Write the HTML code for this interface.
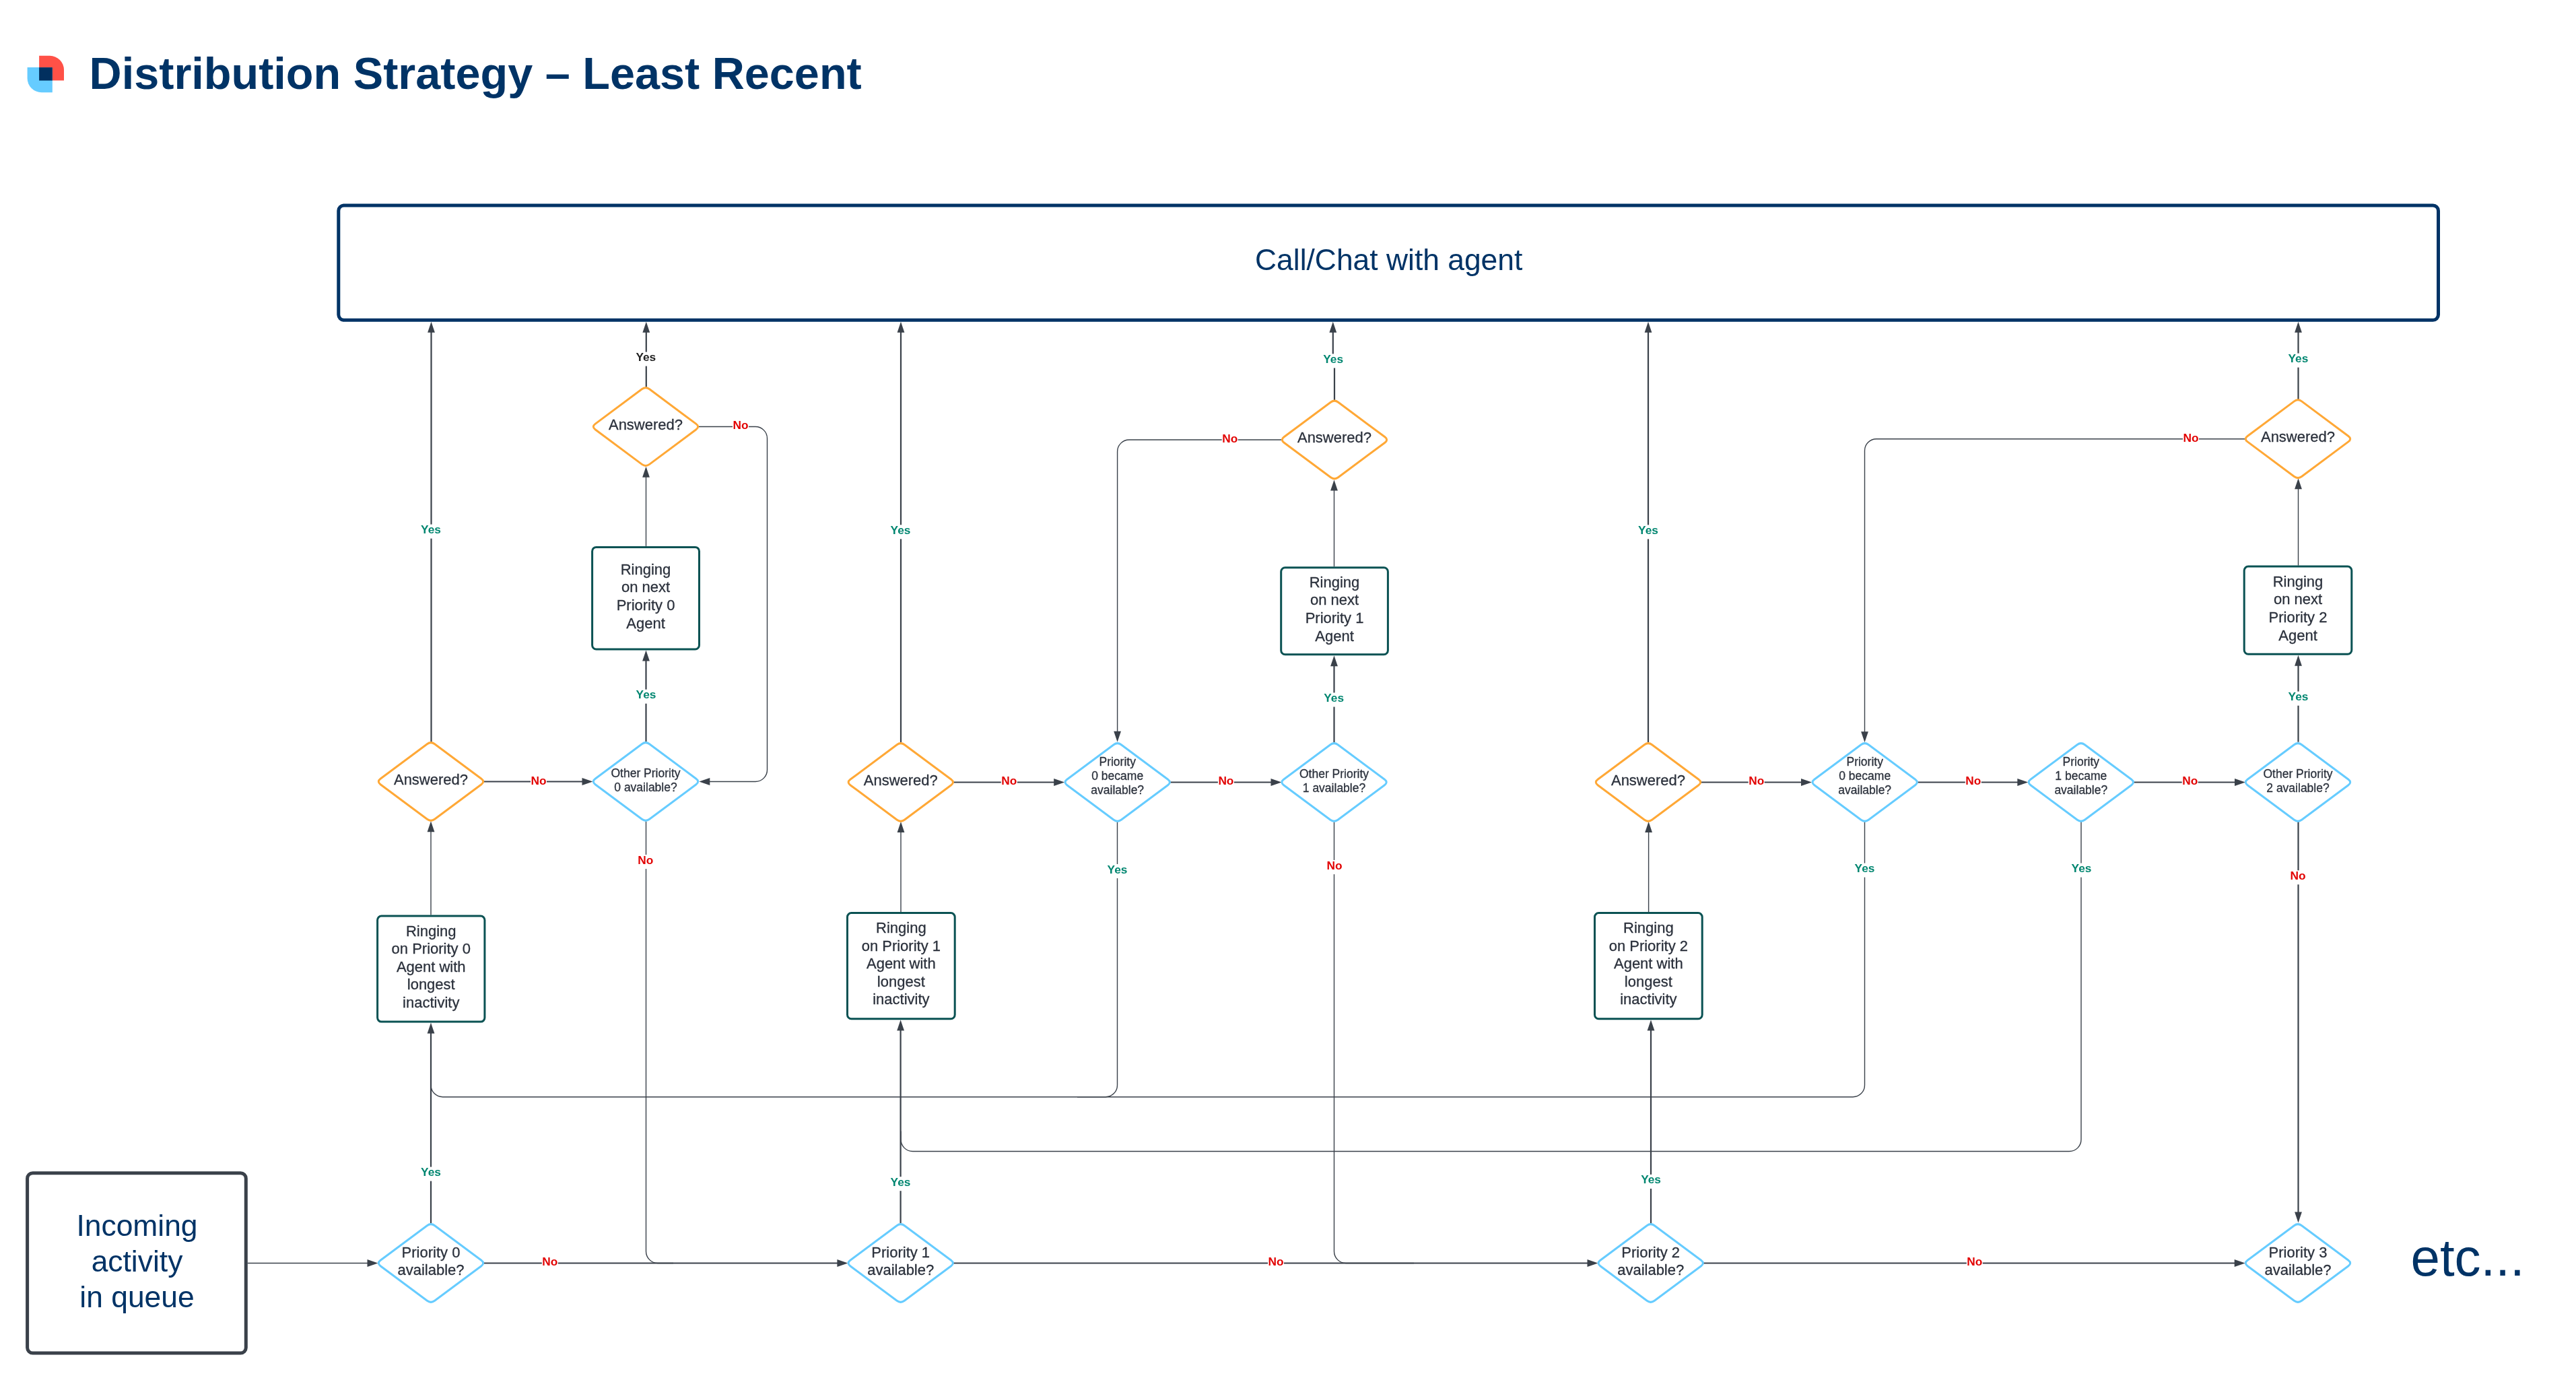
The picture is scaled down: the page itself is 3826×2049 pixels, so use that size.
<!DOCTYPE html>
<html><head><meta charset="utf-8"><title>Distribution Strategy – Least Recent</title>
<style>html,body{margin:0;padding:0;background:#fff;width:3826px;height:2049px;overflow:hidden}
svg{display:block;font-family:"Liberation Sans",sans-serif;will-change:transform}</style></head>
<body>
<svg width="3826" height="2049" viewBox="0 0 3826 2049" font-family="Liberation Sans, sans-serif">
<rect width="3826" height="2049" fill="#fff"/>
<path d="M367.8,1875.5 H546.5" fill="none" stroke="#3a414a" stroke-width="1.5"/>
<path d="M561.50,1875.50 L545.50,1870.10 L545.50,1880.90 Z" fill="#3a414a"/>
<path d="M640,1816.4 V1533.6" fill="none" stroke="#3a414a" stroke-width="2.2"/>
<path d="M640.00,1518.60 L634.60,1534.60 L645.40,1534.60 Z" fill="#3a414a"/>
<path d="M640,1358.6 V1234.2" fill="none" stroke="#3a414a" stroke-width="1.4"/>
<path d="M640.00,1219.20 L634.60,1235.20 L645.40,1235.20 Z" fill="#3a414a"/>
<path d="M640.5,1101.7 V492.8" fill="none" stroke="#3a414a" stroke-width="2.2"/>
<path d="M640.50,477.80 L635.10,493.80 L645.90,493.80 Z" fill="#3a414a"/>
<path d="M718.9,1160.5 H865.5" fill="none" stroke="#3a414a" stroke-width="2.2"/>
<path d="M880.50,1160.50 L864.50,1155.10 L864.50,1165.90 Z" fill="#3a414a"/>
<path d="M959.5,1101.2 V980.5" fill="none" stroke="#3a414a" stroke-width="2.2"/>
<path d="M959.50,965.50 L954.10,981.50 L964.90,981.50 Z" fill="#3a414a"/>
<path d="M959.5,810.9 V707.7" fill="none" stroke="#3a414a" stroke-width="1.4"/>
<path d="M959.50,692.70 L954.10,708.70 L964.90,708.70 Z" fill="#3a414a"/>
<path d="M959.8,574.7 V492.8" fill="none" stroke="#3a414a" stroke-width="2.2"/>
<path d="M959.80,477.80 L954.40,493.80 L965.20,493.80 Z" fill="#3a414a"/>
<path d="M1037.6,633.5 L1122.00,633.50 A17.5,17.5 0 0 1 1139.50,651.00 L1139.50,1143.00 A17.5,17.5 0 0 1 1122.00,1160.50 L1053.3,1160.5" fill="none" stroke="#3a414a" stroke-width="1.4"/>
<path d="M1038.30,1160.50 L1054.30,1155.10 L1054.30,1165.90 Z" fill="#3a414a"/>
<path d="M959.5,1219.7 L959.50,1858.00 A17.5,17.5 0 0 0 977.00,1875.50 L1000,1875.5" fill="none" stroke="#3a414a" stroke-width="1.4"/>
<path d="M718.5,1875.5 H1244.4" fill="none" stroke="#3a414a" stroke-width="2.2"/>
<path d="M1259.40,1875.50 L1243.40,1870.10 L1243.40,1880.90 Z" fill="#3a414a"/>
<path d="M1337.6,1816.3 V1529.3" fill="none" stroke="#3a414a" stroke-width="2.2"/>
<path d="M1337.60,1514.30 L1332.20,1530.30 L1343.00,1530.30 Z" fill="#3a414a"/>
<path d="M1338,1354.1 V1235" fill="none" stroke="#3a414a" stroke-width="1.4"/>
<path d="M1338.00,1220.00 L1332.60,1236.00 L1343.40,1236.00 Z" fill="#3a414a"/>
<path d="M1338,1102 V492.8" fill="none" stroke="#3a414a" stroke-width="2.2"/>
<path d="M1338.00,477.80 L1332.60,493.80 L1343.40,493.80 Z" fill="#3a414a"/>
<path d="M1416.3,1161.5 H1566.2" fill="none" stroke="#3a414a" stroke-width="2.2"/>
<path d="M1581.20,1161.50 L1565.20,1156.10 L1565.20,1166.90 Z" fill="#3a414a"/>
<path d="M1659.5,1220.5 L1659.50,1611.20 A17.5,17.5 0 0 1 1642.00,1628.70 L657.50,1628.70 A17.5,17.5 0 0 1 640.00,1611.20 L640,1598.7" fill="none" stroke="#3a414a" stroke-width="1.4"/>
<path d="M1738.3,1161.5 H1888.5" fill="none" stroke="#3a414a" stroke-width="2.2"/>
<path d="M1903.50,1161.50 L1887.50,1156.10 L1887.50,1166.90 Z" fill="#3a414a"/>
<path d="M1981.5,1102 V988.3" fill="none" stroke="#3a414a" stroke-width="2.2"/>
<path d="M1981.50,973.30 L1976.10,989.30 L1986.90,989.30 Z" fill="#3a414a"/>
<path d="M1981.5,841.2 V727.5" fill="none" stroke="#3a414a" stroke-width="1.4"/>
<path d="M1981.50,712.50 L1976.10,728.50 L1986.90,728.50 Z" fill="#3a414a"/>
<path d="M1982,594.3 V542 L1979.8,539 V492.8" fill="none" stroke="#3a414a" stroke-width="2.2"/>
<path d="M1979.80,477.80 L1974.40,493.80 L1985.20,493.80 Z" fill="#3a414a"/>
<path d="M1903.4,653 L1677.10,653.00 A17.5,17.5 0 0 0 1659.60,670.50 L1659.6,1086.7" fill="none" stroke="#3a414a" stroke-width="1.4"/>
<path d="M1659.60,1101.70 L1654.20,1085.70 L1665.00,1085.70 Z" fill="#3a414a"/>
<path d="M1981.5,1220.5 L1981.50,1858.00 A17.5,17.5 0 0 0 1999.00,1875.50 L2100,1875.5" fill="none" stroke="#3a414a" stroke-width="1.4"/>
<path d="M1416,1875.5 H2358.5" fill="none" stroke="#3a414a" stroke-width="2.2"/>
<path d="M2373.50,1875.50 L2357.50,1870.10 L2357.50,1880.90 Z" fill="#3a414a"/>
<path d="M2452,1817 V1529.3" fill="none" stroke="#3a414a" stroke-width="2.2"/>
<path d="M2452.00,1514.30 L2446.60,1530.30 L2457.40,1530.30 Z" fill="#3a414a"/>
<path d="M2448.6,1354.1 V1235" fill="none" stroke="#3a414a" stroke-width="1.4"/>
<path d="M2448.60,1220.00 L2443.20,1236.00 L2454.00,1236.00 Z" fill="#3a414a"/>
<path d="M2448,1102 V492.8" fill="none" stroke="#3a414a" stroke-width="2.2"/>
<path d="M2448.00,477.80 L2442.60,493.80 L2453.40,493.80 Z" fill="#3a414a"/>
<path d="M2526.4,1161.5 H2676" fill="none" stroke="#3a414a" stroke-width="2.2"/>
<path d="M2691.00,1161.50 L2675.00,1156.10 L2675.00,1166.90 Z" fill="#3a414a"/>
<path d="M2769.5,1220 L2769.50,1611.20 A17.5,17.5 0 0 1 2752.00,1628.70 L1600,1628.7" fill="none" stroke="#3a414a" stroke-width="1.4"/>
<path d="M2848.3,1161.5 H2997.3" fill="none" stroke="#3a414a" stroke-width="2.2"/>
<path d="M3012.30,1161.50 L2996.30,1156.10 L2996.30,1166.90 Z" fill="#3a414a"/>
<path d="M3091,1220 L3091.00,1692.00 A17.5,17.5 0 0 1 3073.50,1709.50 L1355.50,1709.50 A17.5,17.5 0 0 1 1338.00,1692.00 L1338,1679.5" fill="none" stroke="#3a414a" stroke-width="1.4"/>
<path d="M3169.2,1161.5 H3320" fill="none" stroke="#3a414a" stroke-width="2.2"/>
<path d="M3335.00,1161.50 L3319.00,1156.10 L3319.00,1166.90 Z" fill="#3a414a"/>
<path d="M3413.5,1101.7 V987.8" fill="none" stroke="#3a414a" stroke-width="2.2"/>
<path d="M3413.50,972.80 L3408.10,988.80 L3418.90,988.80 Z" fill="#3a414a"/>
<path d="M3413.5,839.6 V725.2" fill="none" stroke="#3a414a" stroke-width="1.4"/>
<path d="M3413.50,710.20 L3408.10,726.20 L3418.90,726.20 Z" fill="#3a414a"/>
<path d="M3413.5,593 V492.8" fill="none" stroke="#3a414a" stroke-width="2.2"/>
<path d="M3413.50,477.80 L3408.10,493.80 L3418.90,493.80 Z" fill="#3a414a"/>
<path d="M3334.6,651.7 L2787.00,651.70 A17.5,17.5 0 0 0 2769.50,669.20 L2769.5,1087.3" fill="none" stroke="#3a414a" stroke-width="1.4"/>
<path d="M2769.50,1102.30 L2764.10,1086.30 L2774.90,1086.30 Z" fill="#3a414a"/>
<path d="M3413.5,1219.4 V1800.5" fill="none" stroke="#3a414a" stroke-width="2.2"/>
<path d="M3413.50,1815.50 L3408.10,1799.50 L3418.90,1799.50 Z" fill="#3a414a"/>
<path d="M2529.8,1875.5 H3319.7" fill="none" stroke="#3a414a" stroke-width="2.2"/>
<path d="M3334.70,1875.50 L3318.70,1870.10 L3318.70,1880.90 Z" fill="#3a414a"/>
<rect x="624.50" y="1732.60" width="31" height="21" fill="#fff"/>
<text x="640" y="1746.1" font-size="17.3" font-weight="bold" fill="#008670" text-anchor="middle">Yes</text>
<rect x="624.50" y="778.60" width="31" height="21" fill="#fff"/>
<text x="640" y="792.1" font-size="17.3" font-weight="bold" fill="#008670" text-anchor="middle">Yes</text>
<rect x="788.00" y="1151.10" width="24" height="21" fill="#fff"/>
<text x="800" y="1164.6" font-size="17.3" font-weight="bold" fill="#e20000" text-anchor="middle">No</text>
<rect x="944.00" y="1023.70" width="31" height="21" fill="#fff"/>
<text x="959.5" y="1037.2" font-size="17.3" font-weight="bold" fill="#008670" text-anchor="middle">Yes</text>
<rect x="943.80" y="522.60" width="31" height="21" fill="#fff"/>
<text x="959.3" y="536.1" font-size="17.3" font-weight="bold" fill="#222" text-anchor="middle">Yes</text>
<rect x="1088.00" y="623.80" width="24" height="21" fill="#fff"/>
<text x="1100" y="637.3" font-size="17.3" font-weight="bold" fill="#e20000" text-anchor="middle">No</text>
<rect x="946.80" y="1269.10" width="24" height="21" fill="#fff"/>
<text x="958.8" y="1282.6" font-size="17.3" font-weight="bold" fill="#e20000" text-anchor="middle">No</text>
<rect x="804.80" y="1865.50" width="24" height="21" fill="#fff"/>
<text x="816.8" y="1879" font-size="17.3" font-weight="bold" fill="#e20000" text-anchor="middle">No</text>
<rect x="1322.00" y="1747.20" width="31" height="21" fill="#fff"/>
<text x="1337.5" y="1760.7" font-size="17.3" font-weight="bold" fill="#008670" text-anchor="middle">Yes</text>
<rect x="1322.00" y="779.30" width="31" height="21" fill="#fff"/>
<text x="1337.5" y="792.8" font-size="17.3" font-weight="bold" fill="#008670" text-anchor="middle">Yes</text>
<rect x="1486.80" y="1151.90" width="24" height="21" fill="#fff"/>
<text x="1498.8" y="1165.4" font-size="17.3" font-weight="bold" fill="#e20000" text-anchor="middle">No</text>
<rect x="1644.00" y="1283.00" width="31" height="21" fill="#fff"/>
<text x="1659.5" y="1296.5" font-size="17.3" font-weight="bold" fill="#008670" text-anchor="middle">Yes</text>
<rect x="1808.90" y="1151.70" width="24" height="21" fill="#fff"/>
<text x="1820.9" y="1165.2" font-size="17.3" font-weight="bold" fill="#e20000" text-anchor="middle">No</text>
<rect x="1965.70" y="1028.50" width="31" height="21" fill="#fff"/>
<text x="1981.2" y="1042" font-size="17.3" font-weight="bold" fill="#008670" text-anchor="middle">Yes</text>
<rect x="1964.70" y="525.40" width="31" height="21" fill="#fff"/>
<text x="1980.2" y="538.9" font-size="17.3" font-weight="bold" fill="#008670" text-anchor="middle">Yes</text>
<rect x="1814.70" y="643.30" width="24" height="21" fill="#fff"/>
<text x="1826.7" y="656.8" font-size="17.3" font-weight="bold" fill="#e20000" text-anchor="middle">No</text>
<rect x="1970.00" y="1277.10" width="24" height="21" fill="#fff"/>
<text x="1982" y="1290.6" font-size="17.3" font-weight="bold" fill="#e20000" text-anchor="middle">No</text>
<rect x="1883.00" y="1865.40" width="24" height="21" fill="#fff"/>
<text x="1895" y="1878.9" font-size="17.3" font-weight="bold" fill="#e20000" text-anchor="middle">No</text>
<rect x="2436.60" y="1743.90" width="31" height="21" fill="#fff"/>
<text x="2452.1" y="1757.4" font-size="17.3" font-weight="bold" fill="#008670" text-anchor="middle">Yes</text>
<rect x="2432.50" y="779.40" width="31" height="21" fill="#fff"/>
<text x="2448" y="792.9" font-size="17.3" font-weight="bold" fill="#008670" text-anchor="middle">Yes</text>
<rect x="2596.70" y="1151.90" width="24" height="21" fill="#fff"/>
<text x="2608.7" y="1165.4" font-size="17.3" font-weight="bold" fill="#e20000" text-anchor="middle">No</text>
<rect x="2754.00" y="1281.60" width="31" height="21" fill="#fff"/>
<text x="2769.5" y="1295.1" font-size="17.3" font-weight="bold" fill="#008670" text-anchor="middle">Yes</text>
<rect x="2918.80" y="1151.90" width="24" height="21" fill="#fff"/>
<text x="2930.8" y="1165.4" font-size="17.3" font-weight="bold" fill="#e20000" text-anchor="middle">No</text>
<rect x="3076.00" y="1281.60" width="31" height="21" fill="#fff"/>
<text x="3091.5" y="1295.1" font-size="17.3" font-weight="bold" fill="#008670" text-anchor="middle">Yes</text>
<rect x="3240.70" y="1151.70" width="24" height="21" fill="#fff"/>
<text x="3252.7" y="1165.2" font-size="17.3" font-weight="bold" fill="#e20000" text-anchor="middle">No</text>
<rect x="3398.00" y="1026.70" width="31" height="21" fill="#fff"/>
<text x="3413.5" y="1040.2" font-size="17.3" font-weight="bold" fill="#008670" text-anchor="middle">Yes</text>
<rect x="3397.90" y="524.60" width="31" height="21" fill="#fff"/>
<text x="3413.4" y="538.1" font-size="17.3" font-weight="bold" fill="#008670" text-anchor="middle">Yes</text>
<rect x="3242.00" y="642.30" width="24" height="21" fill="#fff"/>
<text x="3254" y="655.8" font-size="17.3" font-weight="bold" fill="#e20000" text-anchor="middle">No</text>
<rect x="3401.00" y="1292.30" width="24" height="21" fill="#fff"/>
<text x="3413" y="1305.8" font-size="17.3" font-weight="bold" fill="#e20000" text-anchor="middle">No</text>
<rect x="2920.80" y="1865.40" width="24" height="21" fill="#fff"/>
<text x="2932.8" y="1878.9" font-size="17.3" font-weight="bold" fill="#e20000" text-anchor="middle">No</text>
<rect x="502.8" y="304.9" width="3118.7" height="170.4" rx="8" fill="none" stroke="#003366" stroke-width="5"/>
<text x="2062.7" y="400.9" font-size="44.4" fill="#003366" text-anchor="middle">Call/Chat with agent</text>
<rect x="40.6" y="1741.7" width="324.7" height="267.3" rx="8" fill="#fff" stroke="#3a414a" stroke-width="5"/>
<text x="203.5" y="1835.00" font-size="44.4" fill="#003366" text-anchor="middle">Incoming</text>
<text x="203.5" y="1888.00" font-size="44.4" fill="#003366" text-anchor="middle">activity</text>
<text x="203.5" y="1941.00" font-size="44.4" fill="#003366" text-anchor="middle">in queue</text>
<rect x="560.6" y="1360.1" width="159.3" height="157" rx="6" fill="#fff" stroke="#0a5253" stroke-width="3"/>
<text x="640.25" y="1389.60" font-size="22" fill="#2b313c" stroke="#2b313c" stroke-width="0.3" text-anchor="middle">Ringing</text>
<text x="640.25" y="1416.15" font-size="22" fill="#2b313c" stroke="#2b313c" stroke-width="0.3" text-anchor="middle">on Priority 0</text>
<text x="640.25" y="1442.70" font-size="22" fill="#2b313c" stroke="#2b313c" stroke-width="0.3" text-anchor="middle">Agent with</text>
<text x="640.25" y="1469.25" font-size="22" fill="#2b313c" stroke="#2b313c" stroke-width="0.3" text-anchor="middle">longest</text>
<text x="640.25" y="1495.80" font-size="22" fill="#2b313c" stroke="#2b313c" stroke-width="0.3" text-anchor="middle">inactivity</text>
<rect x="1258.5" y="1355.6" width="159.7" height="157.2" rx="6" fill="#fff" stroke="#0a5253" stroke-width="3"/>
<text x="1338.35" y="1385.20" font-size="22" fill="#2b313c" stroke="#2b313c" stroke-width="0.3" text-anchor="middle">Ringing</text>
<text x="1338.35" y="1411.75" font-size="22" fill="#2b313c" stroke="#2b313c" stroke-width="0.3" text-anchor="middle">on Priority 1</text>
<text x="1338.35" y="1438.30" font-size="22" fill="#2b313c" stroke="#2b313c" stroke-width="0.3" text-anchor="middle">Agent with</text>
<text x="1338.35" y="1464.85" font-size="22" fill="#2b313c" stroke="#2b313c" stroke-width="0.3" text-anchor="middle">longest</text>
<text x="1338.35" y="1491.40" font-size="22" fill="#2b313c" stroke="#2b313c" stroke-width="0.3" text-anchor="middle">inactivity</text>
<rect x="2368.5" y="1355.6" width="159.7" height="157.2" rx="6" fill="#fff" stroke="#0a5253" stroke-width="3"/>
<text x="2448.35" y="1385.20" font-size="22" fill="#2b313c" stroke="#2b313c" stroke-width="0.3" text-anchor="middle">Ringing</text>
<text x="2448.35" y="1411.75" font-size="22" fill="#2b313c" stroke="#2b313c" stroke-width="0.3" text-anchor="middle">on Priority 2</text>
<text x="2448.35" y="1438.30" font-size="22" fill="#2b313c" stroke="#2b313c" stroke-width="0.3" text-anchor="middle">Agent with</text>
<text x="2448.35" y="1464.85" font-size="22" fill="#2b313c" stroke="#2b313c" stroke-width="0.3" text-anchor="middle">longest</text>
<text x="2448.35" y="1491.40" font-size="22" fill="#2b313c" stroke="#2b313c" stroke-width="0.3" text-anchor="middle">inactivity</text>
<rect x="879.6" y="812.4" width="158.9" height="151.6" rx="6" fill="#fff" stroke="#0a5253" stroke-width="3"/>
<text x="959.05" y="852.60" font-size="22" fill="#2b313c" stroke="#2b313c" stroke-width="0.3" text-anchor="middle">Ringing</text>
<text x="959.05" y="879.30" font-size="22" fill="#2b313c" stroke="#2b313c" stroke-width="0.3" text-anchor="middle">on next</text>
<text x="959.05" y="906.00" font-size="22" fill="#2b313c" stroke="#2b313c" stroke-width="0.3" text-anchor="middle">Priority 0</text>
<text x="959.05" y="932.70" font-size="22" fill="#2b313c" stroke="#2b313c" stroke-width="0.3" text-anchor="middle">Agent</text>
<rect x="1902.7" y="842.7" width="158.7" height="129.1" rx="6" fill="#fff" stroke="#0a5253" stroke-width="3"/>
<text x="1982.05" y="871.65" font-size="22" fill="#2b313c" stroke="#2b313c" stroke-width="0.3" text-anchor="middle">Ringing</text>
<text x="1982.05" y="898.35" font-size="22" fill="#2b313c" stroke="#2b313c" stroke-width="0.3" text-anchor="middle">on next</text>
<text x="1982.05" y="925.05" font-size="22" fill="#2b313c" stroke="#2b313c" stroke-width="0.3" text-anchor="middle">Priority 1</text>
<text x="1982.05" y="951.75" font-size="22" fill="#2b313c" stroke="#2b313c" stroke-width="0.3" text-anchor="middle">Agent</text>
<rect x="3333.2" y="841.1" width="159.6" height="130.2" rx="6" fill="#fff" stroke="#0a5253" stroke-width="3"/>
<text x="3413.00" y="870.60" font-size="22" fill="#2b313c" stroke="#2b313c" stroke-width="0.3" text-anchor="middle">Ringing</text>
<text x="3413.00" y="897.30" font-size="22" fill="#2b313c" stroke="#2b313c" stroke-width="0.3" text-anchor="middle">on next</text>
<text x="3413.00" y="924.00" font-size="22" fill="#2b313c" stroke="#2b313c" stroke-width="0.3" text-anchor="middle">Priority 2</text>
<text x="3413.00" y="950.70" font-size="22" fill="#2b313c" stroke="#2b313c" stroke-width="0.3" text-anchor="middle">Agent</text>
<path d="M565.11,1164.68 Q559.50,1160.50 565.11,1156.32 L634.39,1104.68 Q640.00,1100.50 645.61,1104.68 L714.89,1156.32 Q720.50,1160.50 714.89,1164.68 L645.61,1216.32 Q640.00,1220.50 634.39,1216.32 Z" fill="#fff" stroke="#ffa836" stroke-width="3" stroke-linejoin="round"/>
<text x="640" y="1164.60" font-size="22" fill="#2b313c" stroke="#2b313c" stroke-width="0.3" text-anchor="middle">Answered?</text>
<path d="M1262.91,1165.68 Q1257.30,1161.50 1262.91,1157.32 L1332.19,1105.68 Q1337.80,1101.50 1343.41,1105.68 L1412.69,1157.32 Q1418.30,1161.50 1412.69,1165.68 L1343.41,1217.32 Q1337.80,1221.50 1332.19,1217.32 Z" fill="#fff" stroke="#ffa836" stroke-width="3" stroke-linejoin="round"/>
<text x="1337.8" y="1165.60" font-size="22" fill="#2b313c" stroke="#2b313c" stroke-width="0.3" text-anchor="middle">Answered?</text>
<path d="M2373.11,1165.68 Q2367.50,1161.50 2373.11,1157.32 L2442.39,1105.68 Q2448.00,1101.50 2453.61,1105.68 L2522.89,1157.32 Q2528.50,1161.50 2522.89,1165.68 L2453.61,1217.32 Q2448.00,1221.50 2442.39,1217.32 Z" fill="#fff" stroke="#ffa836" stroke-width="3" stroke-linejoin="round"/>
<text x="2448" y="1165.60" font-size="22" fill="#2b313c" stroke="#2b313c" stroke-width="0.3" text-anchor="middle">Answered?</text>
<path d="M884.11,637.78 Q878.50,633.60 884.11,629.42 L953.39,577.78 Q959.00,573.60 964.61,577.78 L1033.89,629.42 Q1039.50,633.60 1033.89,637.78 L964.61,689.42 Q959.00,693.60 953.39,689.42 Z" fill="#fff" stroke="#ffa836" stroke-width="3" stroke-linejoin="round"/>
<text x="959" y="637.60" font-size="22" fill="#2b313c" stroke="#2b313c" stroke-width="0.3" text-anchor="middle">Answered?</text>
<path d="M1907.11,657.18 Q1901.50,653.00 1907.11,648.82 L1976.39,597.18 Q1982.00,593.00 1987.61,597.18 L2056.89,648.82 Q2062.50,653.00 2056.89,657.18 L1987.61,708.82 Q1982.00,713.00 1976.39,708.82 Z" fill="#fff" stroke="#ffa836" stroke-width="3" stroke-linejoin="round"/>
<text x="1982" y="657.00" font-size="22" fill="#2b313c" stroke="#2b313c" stroke-width="0.3" text-anchor="middle">Answered?</text>
<path d="M3338.11,655.88 Q3332.50,651.70 3338.11,647.52 L3407.39,595.88 Q3413.00,591.70 3418.61,595.88 L3487.89,647.52 Q3493.50,651.70 3487.89,655.88 L3418.61,707.52 Q3413.00,711.70 3407.39,707.52 Z" fill="#fff" stroke="#ffa836" stroke-width="3" stroke-linejoin="round"/>
<text x="3413" y="655.70" font-size="22" fill="#2b313c" stroke="#2b313c" stroke-width="0.3" text-anchor="middle">Answered?</text>
<path d="M884.11,1164.68 Q878.50,1160.50 884.11,1156.32 L953.39,1104.68 Q959.00,1100.50 964.61,1104.68 L1033.89,1156.32 Q1039.50,1160.50 1033.89,1164.68 L964.61,1216.32 Q959.00,1220.50 953.39,1216.32 Z" fill="#fff" stroke="#66ccff" stroke-width="3" stroke-linejoin="round"/>
<text x="959" y="1154.00" font-size="17.5" fill="#2b313c" stroke="#2b313c" stroke-width="0.3" text-anchor="middle">Other Priority</text>
<text x="959" y="1174.90" font-size="17.5" fill="#2b313c" stroke="#2b313c" stroke-width="0.3" text-anchor="middle">0 available?</text>
<path d="M1906.61,1165.68 Q1901.00,1161.50 1906.61,1157.32 L1975.89,1105.68 Q1981.50,1101.50 1987.11,1105.68 L2056.39,1157.32 Q2062.00,1161.50 2056.39,1165.68 L1987.11,1217.32 Q1981.50,1221.50 1975.89,1217.32 Z" fill="#fff" stroke="#66ccff" stroke-width="3" stroke-linejoin="round"/>
<text x="1981.5" y="1155.00" font-size="17.5" fill="#2b313c" stroke="#2b313c" stroke-width="0.3" text-anchor="middle">Other Priority</text>
<text x="1981.5" y="1175.90" font-size="17.5" fill="#2b313c" stroke="#2b313c" stroke-width="0.3" text-anchor="middle">1 available?</text>
<path d="M3338.11,1165.68 Q3332.50,1161.50 3338.11,1157.32 L3407.39,1105.68 Q3413.00,1101.50 3418.61,1105.68 L3487.89,1157.32 Q3493.50,1161.50 3487.89,1165.68 L3418.61,1217.32 Q3413.00,1221.50 3407.39,1217.32 Z" fill="#fff" stroke="#66ccff" stroke-width="3" stroke-linejoin="round"/>
<text x="3413" y="1155.00" font-size="17.5" fill="#2b313c" stroke="#2b313c" stroke-width="0.3" text-anchor="middle">Other Priority</text>
<text x="3413" y="1175.90" font-size="17.5" fill="#2b313c" stroke="#2b313c" stroke-width="0.3" text-anchor="middle">2 available?</text>
<path d="M1584.81,1165.68 Q1579.20,1161.50 1584.81,1157.32 L1654.09,1105.68 Q1659.70,1101.50 1665.31,1105.68 L1734.59,1157.32 Q1740.20,1161.50 1734.59,1165.68 L1665.31,1217.32 Q1659.70,1221.50 1654.09,1217.32 Z" fill="#fff" stroke="#66ccff" stroke-width="3" stroke-linejoin="round"/>
<text x="1659.7" y="1136.50" font-size="17.5" fill="#2b313c" stroke="#2b313c" stroke-width="0.3" text-anchor="middle">Priority</text>
<text x="1659.7" y="1157.80" font-size="17.5" fill="#2b313c" stroke="#2b313c" stroke-width="0.3" text-anchor="middle">0 became</text>
<text x="1659.7" y="1179.10" font-size="17.5" fill="#2b313c" stroke="#2b313c" stroke-width="0.3" text-anchor="middle">available?</text>
<path d="M2694.81,1165.68 Q2689.20,1161.50 2694.81,1157.32 L2764.09,1105.68 Q2769.70,1101.50 2775.31,1105.68 L2844.59,1157.32 Q2850.20,1161.50 2844.59,1165.68 L2775.31,1217.32 Q2769.70,1221.50 2764.09,1217.32 Z" fill="#fff" stroke="#66ccff" stroke-width="3" stroke-linejoin="round"/>
<text x="2769.7" y="1136.50" font-size="17.5" fill="#2b313c" stroke="#2b313c" stroke-width="0.3" text-anchor="middle">Priority</text>
<text x="2769.7" y="1157.80" font-size="17.5" fill="#2b313c" stroke="#2b313c" stroke-width="0.3" text-anchor="middle">0 became</text>
<text x="2769.7" y="1179.10" font-size="17.5" fill="#2b313c" stroke="#2b313c" stroke-width="0.3" text-anchor="middle">available?</text>
<path d="M3015.91,1165.68 Q3010.30,1161.50 3015.91,1157.32 L3085.19,1105.68 Q3090.80,1101.50 3096.41,1105.68 L3165.69,1157.32 Q3171.30,1161.50 3165.69,1165.68 L3096.41,1217.32 Q3090.80,1221.50 3085.19,1217.32 Z" fill="#fff" stroke="#66ccff" stroke-width="3" stroke-linejoin="round"/>
<text x="3090.8" y="1136.50" font-size="17.5" fill="#2b313c" stroke="#2b313c" stroke-width="0.3" text-anchor="middle">Priority</text>
<text x="3090.8" y="1157.80" font-size="17.5" fill="#2b313c" stroke="#2b313c" stroke-width="0.3" text-anchor="middle">1 became</text>
<text x="3090.8" y="1179.10" font-size="17.5" fill="#2b313c" stroke="#2b313c" stroke-width="0.3" text-anchor="middle">available?</text>
<path d="M565.11,1879.68 Q559.50,1875.50 565.11,1871.32 L634.39,1819.68 Q640.00,1815.50 645.61,1819.68 L714.89,1871.32 Q720.50,1875.50 714.89,1879.68 L645.61,1931.32 Q640.00,1935.50 634.39,1931.32 Z" fill="#fff" stroke="#66ccff" stroke-width="3" stroke-linejoin="round"/>
<text x="640" y="1866.70" font-size="22" fill="#2b313c" stroke="#2b313c" stroke-width="0.3" text-anchor="middle">Priority 0</text>
<text x="640" y="1892.90" font-size="22" fill="#2b313c" stroke="#2b313c" stroke-width="0.3" text-anchor="middle">available?</text>
<path d="M1262.81,1879.68 Q1257.20,1875.50 1262.81,1871.32 L1332.09,1819.68 Q1337.70,1815.50 1343.31,1819.68 L1412.59,1871.32 Q1418.20,1875.50 1412.59,1879.68 L1343.31,1931.32 Q1337.70,1935.50 1332.09,1931.32 Z" fill="#fff" stroke="#66ccff" stroke-width="3" stroke-linejoin="round"/>
<text x="1337.7" y="1866.70" font-size="22" fill="#2b313c" stroke="#2b313c" stroke-width="0.3" text-anchor="middle">Priority 1</text>
<text x="1337.7" y="1892.90" font-size="22" fill="#2b313c" stroke="#2b313c" stroke-width="0.3" text-anchor="middle">available?</text>
<path d="M2376.81,1879.68 Q2371.20,1875.50 2376.81,1871.32 L2446.09,1819.68 Q2451.70,1815.50 2457.31,1819.68 L2526.59,1871.32 Q2532.20,1875.50 2526.59,1879.68 L2457.31,1931.32 Q2451.70,1935.50 2446.09,1931.32 Z" fill="#fff" stroke="#66ccff" stroke-width="3" stroke-linejoin="round"/>
<text x="2451.7" y="1866.70" font-size="22" fill="#2b313c" stroke="#2b313c" stroke-width="0.3" text-anchor="middle">Priority 2</text>
<text x="2451.7" y="1892.90" font-size="22" fill="#2b313c" stroke="#2b313c" stroke-width="0.3" text-anchor="middle">available?</text>
<path d="M3338.11,1879.68 Q3332.50,1875.50 3338.11,1871.32 L3407.39,1819.68 Q3413.00,1815.50 3418.61,1819.68 L3487.89,1871.32 Q3493.50,1875.50 3487.89,1879.68 L3418.61,1931.32 Q3413.00,1935.50 3407.39,1931.32 Z" fill="#fff" stroke="#66ccff" stroke-width="3" stroke-linejoin="round"/>
<text x="3413" y="1866.70" font-size="22" fill="#2b313c" stroke="#2b313c" stroke-width="0.3" text-anchor="middle">Priority 3</text>
<text x="3413" y="1892.90" font-size="22" fill="#2b313c" stroke="#2b313c" stroke-width="0.3" text-anchor="middle">available?</text>
<text x="3580.5" y="1894.2" font-size="78" fill="#003366">etc...</text>
<text x="132.6" y="132.1" font-size="66.6" font-weight="bold" fill="#003366">Distribution Strategy – Least Recent</text>
<path d="M58.1,82.8 H74 A21,21 0 0 1 95,103.8 V119.6 H58.1 Z" fill="#ff5147"/>
<path d="M40.6,100.1 H77.8 V137.2 H61.6 A21,21 0 0 1 40.6,116.2 Z" fill="#66ccff"/>
<rect x="58.1" y="100.1" width="19.7" height="19.5" fill="#02305f"/>
</svg>
</body></html>
